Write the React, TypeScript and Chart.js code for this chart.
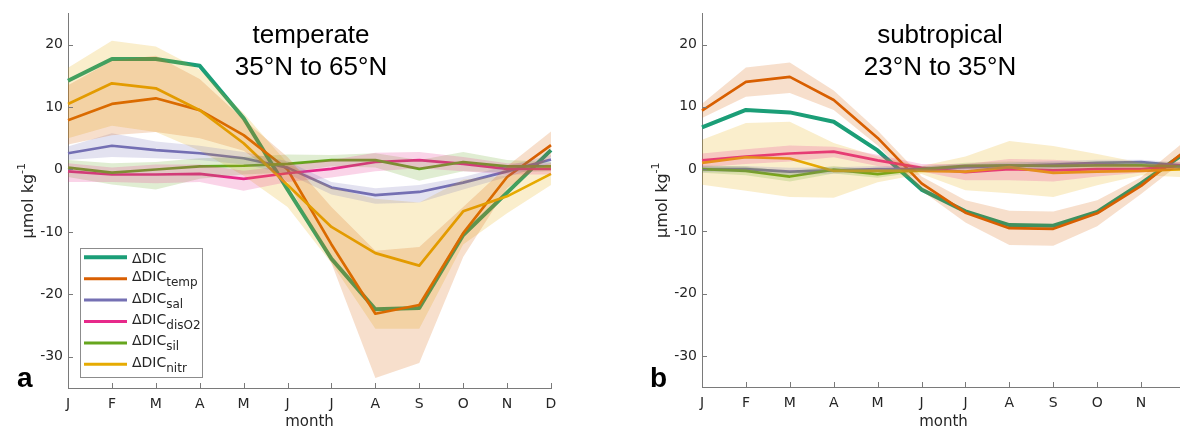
import React, { useEffect, useRef } from 'react';
import { Chart, registerables } from 'chart.js';

Chart.register(...registerables);

// ---------- categories / ticks ----------
const months = ['J', 'F', 'M', 'A', 'M', 'J', 'J', 'A', 'S', 'O', 'N', 'D'];
const yTickValues = [-30, -20, -10, 0, 10, 20];
const yMin = -35;
const yMax = 25;

// ---------- series meta ----------
const seriesSubs = ['', 'temp', 'sal', 'disO2', 'sil', 'nitr'];
const seriesColors = ['#1b9e77', '#d95f02', '#7570b3', '#e7298a', '#66a61e', '#e6ab02'];

// ---------- panel a: temperate 35°N to 65°N ----------
const tempDIC = [14.2, 17.7, 17.7, 16.6, 8.2, -3.2, -14.3, -22.4, -22.2, -10.5, -3.7, 3.1];
const tempTemp = [7.9, 10.5, 11.4, 9.5, 5.5, 0, -12, -23.1, -21.7, -10.2, -1.2, 3.9];
const tempSal = [2.6, 3.8, 3.1, 2.6, 1.8, 0.3, -2.9, -4.1, -3.6, -2.1, -0.3, 1.6];
const tempDisO2 = [-0.3, -0.8, -0.8, -0.7, -1.5, -0.6, 0.1, 1.2, 1.5, 0.9, 0.1, 0.1];
const tempSil = [0.3, -0.5, 0, 0.5, 0.6, 0.9, 1.5, 1.5, 0.1, 1.2, 0.5, 0.5];
const tempNitr = [10.5, 13.8, 13, 9.5, 4.2, -2.5, -9.2, -13.4, -15.4, -6.7, -4.3, -0.7];

const tempTempHi = [13.5, 17.4, 18.2, 14.5, 8, 2, -6, -13, -12.4, -6, 0.5, 6.1];
const tempTempLo = [4, 5.5, 6, 5, 3, -2, -15, -33.4, -31, -14, -3, 2];
const tempSalHi = [3.7, 5.8, 4.5, 3.8, 2.8, 1.3, -2, -3, -2.5, -1.2, 0.6, 2.3];
const tempSalLo = [1.5, 2, 1.8, 1.5, 0.8, -0.7, -4, -5.5, -5.3, -3.2, -1.2, 0.9];
const tempDisO2Hi = [1, 0.3, 0.8, 0.8, -0.2, 0.6, 1.5, 2.7, 2.8, 2, 1, 1];
const tempDisO2Lo = [-2, -2, -2.2, -2, -3.4, -2, -1.3, -0.3, 0.2, -0.3, -0.8, -0.8];
const tempSilHi = [1.5, 1, 1.2, 1.8, 2, 2.4, 2.3, 2.6, 1.5, 2.8, 1.5, 1.2];
const tempSilLo = [-1.2, -2.4, -3.2, -1.5, -0.8, -0.5, 0.5, 0.3, -1.8, -0.3, -0.5, -0.3];
const tempNitrHi = [16.3, 20.6, 19.7, 16, 9, 1, -2.9, -4.7, -5.3, -1.6, -1, 1];
const tempNitrLo = [5, 7, 6, 3, -1, -6, -15, -25.5, -25.5, -12, -7, -2.5];

// ---------- panel b: subtropical 23°N to 35°N ----------
const subDIC = [6.7, 9.5, 9.1, 7.6, 3, -3.3, -6.8, -9, -9.1, -6.9, -2.3, 2.6];
const subTemp = [9.4, 14, 14.8, 11.1, 5, -2.3, -7, -9.5, -9.6, -7.1, -2.7, 2.9];
const subSal = [0, 0, -0.4, -0.2, 0, 0, 0.3, 0.5, 0.7, 1, 1.1, 0.5];
const subDisO2 = [1.4, 2, 2.5, 2.8, 1.4, 0.2, -0.5, 0, -0.2, 0, 0, 0.6];
const subSil = [0, -0.3, -1.2, -0.1, -0.8, 0, 0.5, 0.6, 0.5, 0.6, 0.6, 0.4];
const subNitr = [1, 1.9, 1.7, -0.3, -0.3, -0.3, -0.4, 0.3, -0.6, -0.4, -0.3, 0];

const subTempHi = [10.5, 16.3, 17.1, 12.6, 6.2, -1.2, -5, -6.7, -6.8, -5, -1.3, 4.5];
const subTempLo = [8.2, 11.6, 12.2, 9.5, 3.8, -3.5, -8.6, -12.2, -12.3, -9.2, -4, 1.5];
const subSalHi = [0.5, 0.5, 0.2, 0.3, 0.5, 0.4, 0.8, 1, 1.3, 1.5, 1.5, 1];
const subSalLo = [-0.5, -0.5, -1, -0.7, -0.5, -0.4, -0.2, 0, 0.1, 0.5, 0.6, 0];
const subDisO2Hi = [2.5, 3.2, 3.8, 3.6, 2.3, 0.8, 0.8, 1.6, 1.5, 1, 0.6, 1.2];
const subDisO2Lo = [0.3, 0.8, 1.2, 1.9, 0.5, -0.4, -1.8, -1.8, -2, -1.2, -0.6, 0];
const subSilHi = [0.6, 0.4, -0.4, 0.5, -0.2, 0.4, 1, 1.2, 1.1, 1.2, 1.2, 1];
const subSilLo = [-0.6, -1, -2, -0.7, -1.4, -0.4, 0, 0, -0.1, 0, 0, -0.2];
const subNitrHi = [4.7, 7.4, 7.6, 4.2, 2, 0.5, 2, 4.5, 3.7, 2.4, 1, 0.5];
const subNitrLo = [-2.5, -3.5, -4.5, -4.6, -2.1, -0.8, -3.4, -3.9, -4.5, -2.6, -1, -1.3];

// ---------- styling ----------
const axisColor = '#7a7a7a';
const textColor = '#262626';
const tickFont = 'DejaVu Sans';
const titleFontFamily = '"Liberation Sans", Arial, sans-serif';

function hexToRgba(hex: string, a: number) {
  const r = parseInt(hex.slice(1, 3), 16);
  const g = parseInt(hex.slice(3, 5), 16);
  const b = parseInt(hex.slice(5, 7), 16);
  return `rgba(${r},${g},${b},${a})`;
}

function buildDatasets(lines: number[][], bands: ([number[], number[]] | null)[]) {
  const ds: any[] = [];
  lines.forEach((d, i) => {
    ds.push({
      data: d,
      borderColor: seriesColors[i],
      borderWidth: i === 0 ? 4 : 2.7,
      pointRadius: 0,
      fill: false,
      tension: 0,
      borderJoinStyle: 'round',
      order: 110 - i,
    });
  });
  bands.forEach((b, i) => {
    if (!b) return;
    ds.push({
      data: b[0],
      borderColor: 'rgba(0,0,0,0)',
      borderWidth: 0,
      pointRadius: 0,
      backgroundColor: hexToRgba(seriesColors[i], 0.2),
      fill: '+1',
      tension: 0,
      order: 10 + i,
    });
    ds.push({
      data: b[1],
      borderColor: 'rgba(0,0,0,0)',
      borderWidth: 0,
      pointRadius: 0,
      fill: false,
      tension: 0,
      order: 10 + i,
    });
  });
  return ds;
}

type DecorOpts = {
  title: string[];
  titleX: number;
  letter: string;
  letterX: number;
  legend: boolean;
};

function makeDecor(o: DecorOpts) {
  return {
    id: 'decor',
    afterDraw(chart: any) {
      const { ctx, chartArea } = chart;
      const xs = chart.scales.x;
      const ys = chart.scales.y;
      ctx.save();
      // inward tick marks
      ctx.strokeStyle = axisColor;
      ctx.lineWidth = 1;
      ctx.beginPath();
      for (let i = 0; i < months.length; i++) {
        const px = Math.round(xs.getPixelForValue(i)) + 0.5;
        ctx.moveTo(px, chartArea.bottom);
        ctx.lineTo(px, chartArea.bottom - 5);
      }
      yTickValues.forEach((v) => {
        const py = Math.round(ys.getPixelForValue(v)) + 0.5;
        ctx.moveTo(chartArea.left, py);
        ctx.lineTo(chartArea.left + 5, py);
      });
      ctx.stroke();

      // panel title
      ctx.fillStyle = '#000';
      ctx.font = `26px ${titleFontFamily}`;
      ctx.textAlign = 'center';
      ctx.textBaseline = 'alphabetic';
      ctx.fillText(o.title[0], o.titleX, 43);
      ctx.fillText(o.title[1], o.titleX, 75);

      // panel letter
      ctx.font = `bold 28px ${titleFontFamily}`;
      ctx.textAlign = 'left';
      ctx.fillText(o.letter, o.letterX, 387);

      // y-axis title with superscript
      ctx.fillStyle = textColor;
      const mainTxt = '\u03bcmol kg';
      const supTxt = '-1';
      ctx.font = `16px "${tickFont}"`;
      const w1 = ctx.measureText(mainTxt).width;
      ctx.font = `11px "${tickFont}"`;
      const w2 = ctx.measureText(supTxt).width;
      const tot = w1 + w2;
      ctx.save();
      ctx.translate(chartArea.left - 35, (chartArea.top + chartArea.bottom) / 2);
      ctx.rotate(-Math.PI / 2);
      ctx.textAlign = 'left';
      ctx.font = `16px "${tickFont}"`;
      ctx.fillText(mainTxt, -tot / 2, 0);
      ctx.font = `11px "${tickFont}"`;
      ctx.fillText(supTxt, -tot / 2 + w1, -8);
      ctx.restore();

      // legend
      if (o.legend) {
        ctx.fillStyle = '#fff';
        ctx.fillRect(80.5, 248.5, 122, 129);
        ctx.strokeStyle = '#8c8c8c';
        ctx.lineWidth = 1;
        ctx.strokeRect(80.5, 248.5, 122, 129);
        for (let i = 0; i < seriesSubs.length; i++) {
          const ly = 257.3 + i * 21.4;
          ctx.strokeStyle = seriesColors[i];
          ctx.lineWidth = i === 0 ? 4 : 3;
          ctx.beginPath();
          ctx.moveTo(84, ly);
          ctx.lineTo(127, ly);
          ctx.stroke();
          ctx.fillStyle = textColor;
          ctx.font = `14px "${tickFont}"`;
          ctx.textAlign = 'left';
          const main = '\u0394DIC';
          if (seriesSubs[i] === '') {
            ctx.fillText(main, 132, ly + 5.5);
          } else {
            ctx.fillText(main, 132, ly + 2.5);
            const mw = ctx.measureText(main).width;
            ctx.font = `12px "${tickFont}"`;
            ctx.fillText(seriesSubs[i], 132 + mw, ly + 7.5);
          }
        }
      }
      ctx.restore();
    },
  };
}

function makeConfig(datasets: any[], decor: any, pad: any, xHeight: number, hideLast: boolean) {
  return {
    type: 'line',
    data: { labels: months, datasets },
    options: {
      animation: false,
      responsive: false,
      maintainAspectRatio: false,
      layout: { padding: pad },
      plugins: {
        legend: { display: false },
        tooltip: { enabled: false },
        title: { display: false },
        filler: { drawTime: 'beforeDatasetDraw', propagate: false },
      },
      elements: { line: { tension: 0 } },
      scales: {
        x: {
          type: 'category',
          offset: false,
          grid: { display: false, drawTicks: false },
          border: { display: true, color: axisColor, width: 1 },
          ticks: {
            autoSkip: false,
            maxRotation: 0,
            minRotation: 0,
            padding: 8,
            color: textColor,
            font: { family: tickFont, size: 14 },
            callback: (_v: any, i: number) => (hideLast && i === months.length - 1 ? '' : months[i]),
          },
          title: {
            display: true,
            text: 'month',
            color: textColor,
            font: { family: tickFont, size: 15 },
            padding: { top: 0, bottom: 0 },
          },
          afterFit: (s: any) => {
            s.height = xHeight;
          },
        },
        y: {
          type: 'linear',
          min: yMin,
          max: yMax,
          grid: { display: false, drawTicks: false },
          border: { display: true, color: axisColor, width: 1 },
          ticks: {
            padding: 5,
            color: textColor,
            font: { family: tickFont, size: 14 },
          },
          afterBuildTicks: (s: any) => {
            s.ticks = yTickValues.map((v) => ({ value: v }));
          },
          afterFit: (s: any) => {
            s.width = 60;
          },
        },
      },
    },
    plugins: [decor],
  };
}

export default function App() {
  const leftRef = useRef<HTMLCanvasElement | null>(null);
  const rightRef = useRef<HTMLCanvasElement | null>(null);

  useEffect(() => {
    const leftDs = buildDatasets(
      [tempDIC, tempTemp, tempSal, tempDisO2, tempSil, tempNitr],
      [
        null,
        [tempTempHi, tempTempLo],
        [tempSalHi, tempSalLo],
        [tempDisO2Hi, tempDisO2Lo],
        [tempSilHi, tempSilLo],
        [tempNitrHi, tempNitrLo],
      ]
    );
    const rightDs = buildDatasets(
      [subDIC, subTemp, subSal, subDisO2, subSil, subNitr],
      [
        null,
        [subTempHi, subTempLo],
        [subSalHi, subSalLo],
        [subDisO2Hi, subDisO2Lo],
        [subSilHi, subSilLo],
        [subNitrHi, subNitrLo],
      ]
    );
    const left = new Chart(
      leftRef.current as HTMLCanvasElement,
      makeConfig(
        leftDs,
        makeDecor({ title: ['temperate', '35°N to 65°N'], titleX: 311, letter: 'a', letterX: 17, legend: true }),
        { left: 8, top: 8, right: 69, bottom: 0 },
        43,
        false
      ) as any
    );
    const right = new Chart(
      rightRef.current as HTMLCanvasElement,
      makeConfig(
        rightDs,
        makeDecor({ title: ['subtropical', '23°N to 35°N'], titleX: 300, letter: 'b', letterX: 10, legend: false }),
        { left: 2, top: 8, right: 55, bottom: 0 },
        44,
        true
      ) as any
    );
    return () => {
      left.destroy();
      right.destroy();
    };
  }, []);

  return (
    <div
      style={{
        position: 'absolute',
        left: 0,
        top: 0,
        width: 1180,
        height: 431,
        overflow: 'hidden',
        background: '#fff',
      }}
    >
      <canvas ref={leftRef} width={620} height={431} style={{ position: 'absolute', left: 0, top: 0 }} />
      <canvas ref={rightRef} width={600} height={431} style={{ position: 'absolute', left: 640, top: 0 }} />
    </div>
  );
}
